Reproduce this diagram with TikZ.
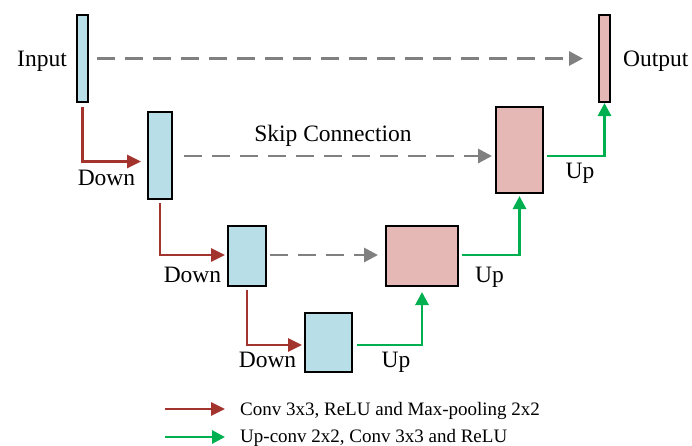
\documentclass[tikz,border=0pt]{standalone}
\usepackage{fontspec}
\setmainfont{Liberation Serif}
\usetikzlibrary{arrows.meta}
\definecolor{boxblue}{RGB}{184,222,232}
\definecolor{boxpink}{RGB}{229,184,181}
\definecolor{downred}{RGB}{163,52,45}
\definecolor{upgreen}{RGB}{0,176,80}
\definecolor{skipgray}{RGB}{128,128,128}
\begin{document}
\begin{tikzpicture}[x=1pt,y=-1pt,
  blk/.style={draw=black,line width=1.9pt,inner sep=0pt,outer sep=0pt,fill=#1},
  downarr/.style={draw=downred,line width=2.9pt,-{Triangle[length=14pt,width=13pt]}},
  uparr/.style={draw=upgreen,line width=2.9pt,-{Triangle[length=13pt,width=13pt]}},
  skiparr/.style={draw=skipgray,line width=2.9pt,dash pattern=on 18pt off 10pt,-{Triangle[length=14pt,width=14pt]}},
  lbl/.style={font=\fontsize{23.5}{27}\selectfont,inner sep=0pt,anchor=base},
  leg/.style={font=\fontsize{19}{22}\selectfont,inner sep=0pt,anchor=base west}]
\useasboundingbox (0,0) rectangle (692,445);
% boxes
\node[blk=boxblue, minimum width=11pt, minimum height=87pt] (in) at (82.5,58.5) {};
\node[blk=boxblue, minimum width=24pt, minimum height=87pt] (b2) at (160,155.5) {};
\node[blk=boxblue, minimum width=38pt, minimum height=60pt] (b3) at (247,256) {};
\node[blk=boxblue, minimum width=47pt, minimum height=59pt] (b4) at (328.5,342.5) {};
\node[blk=boxpink, minimum width=72pt, minimum height=60pt] (p2) at (422,256) {};
\node[blk=boxpink, minimum width=47pt, minimum height=86pt] (p1) at (519.5,150) {};
\node[blk=boxpink, minimum width=11pt, minimum height=87pt] (out) at (604.5,58.5) {};
% rows
\coordinate (r1) at (0,156);
\coordinate (r1d) at (0,161.5);
\coordinate (r2) at (0,255);
\coordinate (r3) at (0,345);
% skip connections
\draw[skiparr, shorten <=9pt, shorten >=16pt] (in.east) -- (out.west);
\draw[skiparr, shorten <=12pt, shorten >=4pt] (b2.east |- r1) -- (p1.west |- r1);
\draw[skiparr, shorten <=4pt, shorten >=8pt] (b3.east |- r2) -- (p2.west |- r2);
% down paths
\draw[downarr, shorten <=5pt, shorten >=7pt] (in.south) |- (b2.west |- r1d);
\draw[downarr, shorten <=4pt, shorten >=3pt] (b2.south) |- (b3.west |- r2);
\draw[downarr, shorten <=4pt, shorten >=3pt] (b3.south) |- (b4.west |- r3);
% up paths
\draw[uparr, shorten <=5pt, shorten >=6pt] (b4.east |- r3) -| (p2.south);
\draw[uparr, shorten <=4pt, shorten >=3pt] (p2.east |- r2) -| (p1.south);
\draw[uparr, shorten <=4pt, shorten >=1pt] (p1.east |- r1) -| (out.south);
% labels
\node[lbl, anchor=base east] (tin) at (67,66) {Input};
\node[lbl, anchor=base west] (tout) at (623,66) {Output};
\node[lbl] (tskip) at (333,141.5) {Skip Connection};
\node[lbl] (td1) at (106.5,185) {Down};
\node[lbl] (td2) at (192.5,282) {Down};
\node[lbl] (td3) at (267.5,367.5) {Down};
\node[lbl] (tu1) at (580,178) {Up};
\node[lbl] (tu2) at (489.5,282) {Up};
\node[lbl] (tu3) at (396,367.5) {Up};
% legend
\coordinate (la1) at (165,409);
\coordinate (lb1) at (225,409);
\coordinate (la2) at (165,437);
\coordinate (lb2) at (225,437);
\draw[downarr] (la1) -- (lb1);
\draw[uparr] (la2) -- (lb2);
\node[leg] (tl1) at (240,415) {Conv 3x3, ReLU and Max-pooling 2x2};
\node[leg] (tl2) at (240,442) {Up-conv 2x2, Conv 3x3 and ReLU};
\end{tikzpicture}
\end{document}
